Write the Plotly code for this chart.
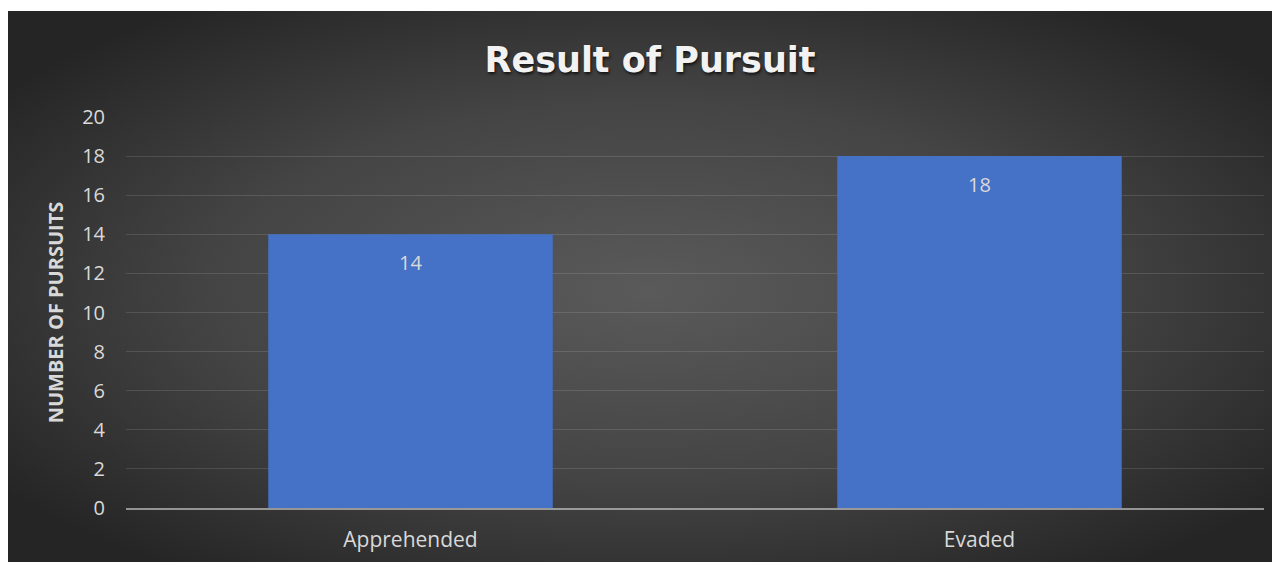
import base64
import plotly.graph_objects as go

categories = ["Apprehended", "Evaded"]
values = [14, 18]
y_ticks = [0, 2, 4, 6, 8, 10, 12, 14, 16, 18, 20]

# figure is placed at page offset (8, 8) by the default body margin
W, H = 1280, 562
L, R, T, B = 118, 24, 109, 62
pw, ph = W - L - R, H - T - B

svg = (
    '<svg xmlns="http://www.w3.org/2000/svg" width="1280" height="559" viewBox="0 0 1280 559" preserveAspectRatio="none">'
    '<defs><radialGradient id="g" cx="50%" cy="50%" r="62%" fx="50%" fy="50%">'
    '<stop offset="0%" stop-color="#5a5a5a"/>'
    '<stop offset="55%" stop-color="#444444"/>'
    '<stop offset="100%" stop-color="#252525"/>'
    '</radialGradient></defs>'
    '<rect x="0" y="0" width="1280" height="559" fill="url(#g)"/></svg>'
)
bg_uri = "data:image/svg+xml;base64," + base64.b64encode(svg.encode()).decode()

font_fam = "Open Sans, Noto Sans, DejaVu Sans, sans-serif"
txt_col = "#d9d9d9"

fig = go.Figure()
fig.add_trace(go.Bar(
    x=categories, y=values,
    marker=dict(color="#4572c6", line=dict(width=0)),
    width=0.5,
    hoverinfo="x+y",
))

for c, v in zip(categories, values):
    fig.add_annotation(
        x=c, y=v, text=str(v), showarrow=False, yanchor="middle", yshift=-28,
        font=dict(family=font_fam, size=20, color=txt_col),
    )

fig.add_layout_image(
    source=bg_uri, xref="paper", yref="paper",
    x=-L / pw, y=1 + (T - 3) / ph,
    sizex=W / pw, sizey=(H - 3) / ph,
    xanchor="left", yanchor="top", sizing="stretch", layer="below",
)

fig.update_layout(
    width=W, height=H,
    margin=dict(l=L, r=R, t=T, b=B),
    paper_bgcolor="white",
    plot_bgcolor="rgba(0,0,0,0)",
    showlegend=False,
    bargap=0.5,
    title=dict(
        text="<b>Result of Pursuit</b>",
        x=642 / W, xanchor="center", xref="container",
        y=1 - 52 / H, yanchor="middle", yref="container",
        font=dict(family="DejaVu Sans, Open Sans, sans-serif", size=35, color="#f2f2f2",
                  shadow="1px 2px 3px rgba(0,0,0,0.7)"),
    ),
    xaxis=dict(
        showgrid=False, zeroline=False,
        showline=True, linecolor="rgba(217,217,217,0.6)", linewidth=2,
        layer="above traces",
        ticks="", ticklabelstandoff=12,
        tickfont=dict(family=font_fam, size=21, color=txt_col),
    ),
    yaxis=dict(
        range=[0, 20], tickvals=y_ticks, ticktext=[str(t) for t in y_ticks],
        showgrid=True, gridcolor="rgba(255,255,255,0.12)", gridwidth=1,
        zeroline=False, showline=False, ticks="",
        ticklabelstandoff=20,
        tickfont=dict(family=font_fam, size=20, color=txt_col),
        title=dict(text="<b>NUMBER OF PURSUITS</b>", standoff=13,
                   font=dict(family=font_fam, size=20, color=txt_col)),
    ),
)

fig.write_html("out.html")
